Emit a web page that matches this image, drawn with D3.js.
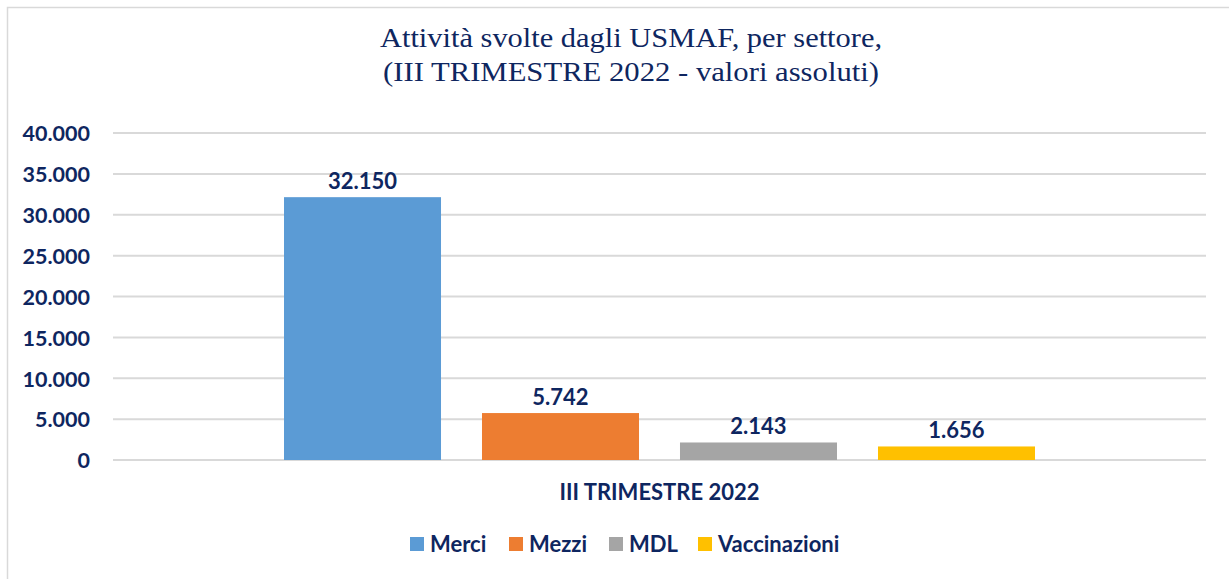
<!DOCTYPE html>
<html>
<head>
<meta charset="utf-8">
<script src="https://cdn.jsdelivr.net/npm/d3@7"></script>
<style>
  body { margin: 0; background: #fff; }
  svg { display: block; }
</style>
</head>
<body>
<div id="chart"></div>
<script>
// data
const categories = ["III TRIMESTRE 2022"];
const seriesNames = ["Merci", "Mezzi", "MDL", "Vaccinazioni"];
const seriesValues = [32150, 5742, 2143, 1656];
const seriesColors = ["#5B9BD5", "#ED7D31", "#A5A5A5", "#FFC000"];
const yTicks = [0, 5000, 10000, 15000, 20000, 25000, 30000, 35000, 40000];
const titleLines = ["Attività svolte dagli USMAF, per settore,", "(III TRIMESTRE 2022 - valori assoluti)"];

const width = 1229, height = 579;
const navy = "#0E2660";
const margin = {top: 133, right: 23, bottom: 119, left: 113};
const sansFont = "Lato, 'Open Sans', sans-serif";

const fmt = v => d3.format(",")(v).replace(/,/g, ".");

const svg = d3.select("#chart").append("svg")
  .attr("width", width)
  .attr("height", height);

// outer chart frame
svg.append("rect")
  .attr("x", 7.5).attr("y", 7.5)
  .attr("width", width + 10).attr("height", height + 10)
  .attr("fill", "none")
  .attr("stroke", "#D9D9D9")
  .attr("stroke-width", 1.5);

// title
svg.append("g").selectAll("text")
  .data(titleLines)
  .enter().append("text")
  .attr("x", 631)
  .attr("y", (d, i) => 47 + i * 34)
  .attr("text-anchor", "middle")
  .style("font-family", "'Liberation Serif', 'DejaVu Serif', serif")
  .style("font-size", "27px")
  .attr("textLength", (d, i) => i === 0 ? 502 : 496)
  .attr("lengthAdjust", "spacingAndGlyphs")
  .attr("fill", navy)
  .text(d => d);

const x0 = d3.scaleBand()
  .domain(categories)
  .range([margin.left, width - margin.right]);

const xc = x0(categories[0]) + x0.bandwidth() / 2;
const x1 = d3.scaleBand()
  .domain(seriesNames)
  .range([xc - 375.5, xc + 375.5])
  .paddingInner(0.207);

const y = d3.scaleLinear()
  .domain([0, 40000])
  .range([height - margin.bottom, margin.top]);

// gridlines
svg.append("g")
  .selectAll("line")
  .data(yTicks)
  .enter().append("line")
  .attr("x1", margin.left)
  .attr("x2", width - margin.right)
  .attr("y1", d => y(d))
  .attr("y2", d => y(d))
  .attr("stroke", "#D9D9D9")
  .attr("stroke-width", 2);

// y axis labels
const yAxis = svg.append("g")
  .attr("transform", "translate(" + 90 + ",0)")
  .call(d3.axisLeft(y).tickValues(yTicks).tickFormat(fmt).tickSize(0));
yAxis.select(".domain").remove();
yAxis.selectAll("text")
  .attr("x", 0)
  .attr("dy", "0.36em")
  .attr("fill", navy)
  .style("font-family", sansFont)
  .style("font-weight", "bold")
  .style("font-size", "21.5px");

// bars
const bars = seriesNames.map((s, i) => ({name: s, value: seriesValues[i], color: seriesColors[i]}));

svg.append("g")
  .selectAll("rect")
  .data(bars)
  .enter().append("rect")
  .attr("x", d => x1(d.name))
  .attr("y", d => y(d.value))
  .attr("width", x1.bandwidth())
  .attr("height", d => y(0) - y(d.value))
  .attr("fill", d => d.color);

// value labels
svg.append("g")
  .selectAll("text")
  .data(bars)
  .enter().append("text")
  .attr("x", d => x1(d.name) + x1.bandwidth() / 2)
  .attr("y", d => y(d.value) - 8)
  .attr("text-anchor", "middle")
  .attr("fill", navy)
  .style("font-family", sansFont)
  .style("font-weight", "bold")
  .style("font-size", "22px")
  .text(d => fmt(d.value));

// category label
svg.append("text")
  .attr("x", xc)
  .attr("y", 500)
  .attr("text-anchor", "middle")
  .attr("fill", navy)
  .style("font-family", sansFont)
  .style("font-weight", "bold")
  .style("font-size", "22px")
  .text(categories[0]);

// legend
const legendX = [410, 509, 609, 698];
const legend = svg.append("g")
  .selectAll("g")
  .data(bars)
  .enter().append("g")
  .attr("transform", (d, i) => "translate(" + legendX[i] + ",544)");
legend.append("rect")
  .attr("x", 0).attr("y", -7)
  .attr("width", 14).attr("height", 14)
  .attr("fill", d => d.color);
legend.append("text")
  .attr("x", 20)
  .attr("y", 0)
  .attr("dy", "0.36em")
  .attr("fill", navy)
  .style("font-family", sansFont)
  .style("font-weight", "bold")
  .style("font-size", "22px")
  .text(d => d.name);
</script>
</body>
</html>
